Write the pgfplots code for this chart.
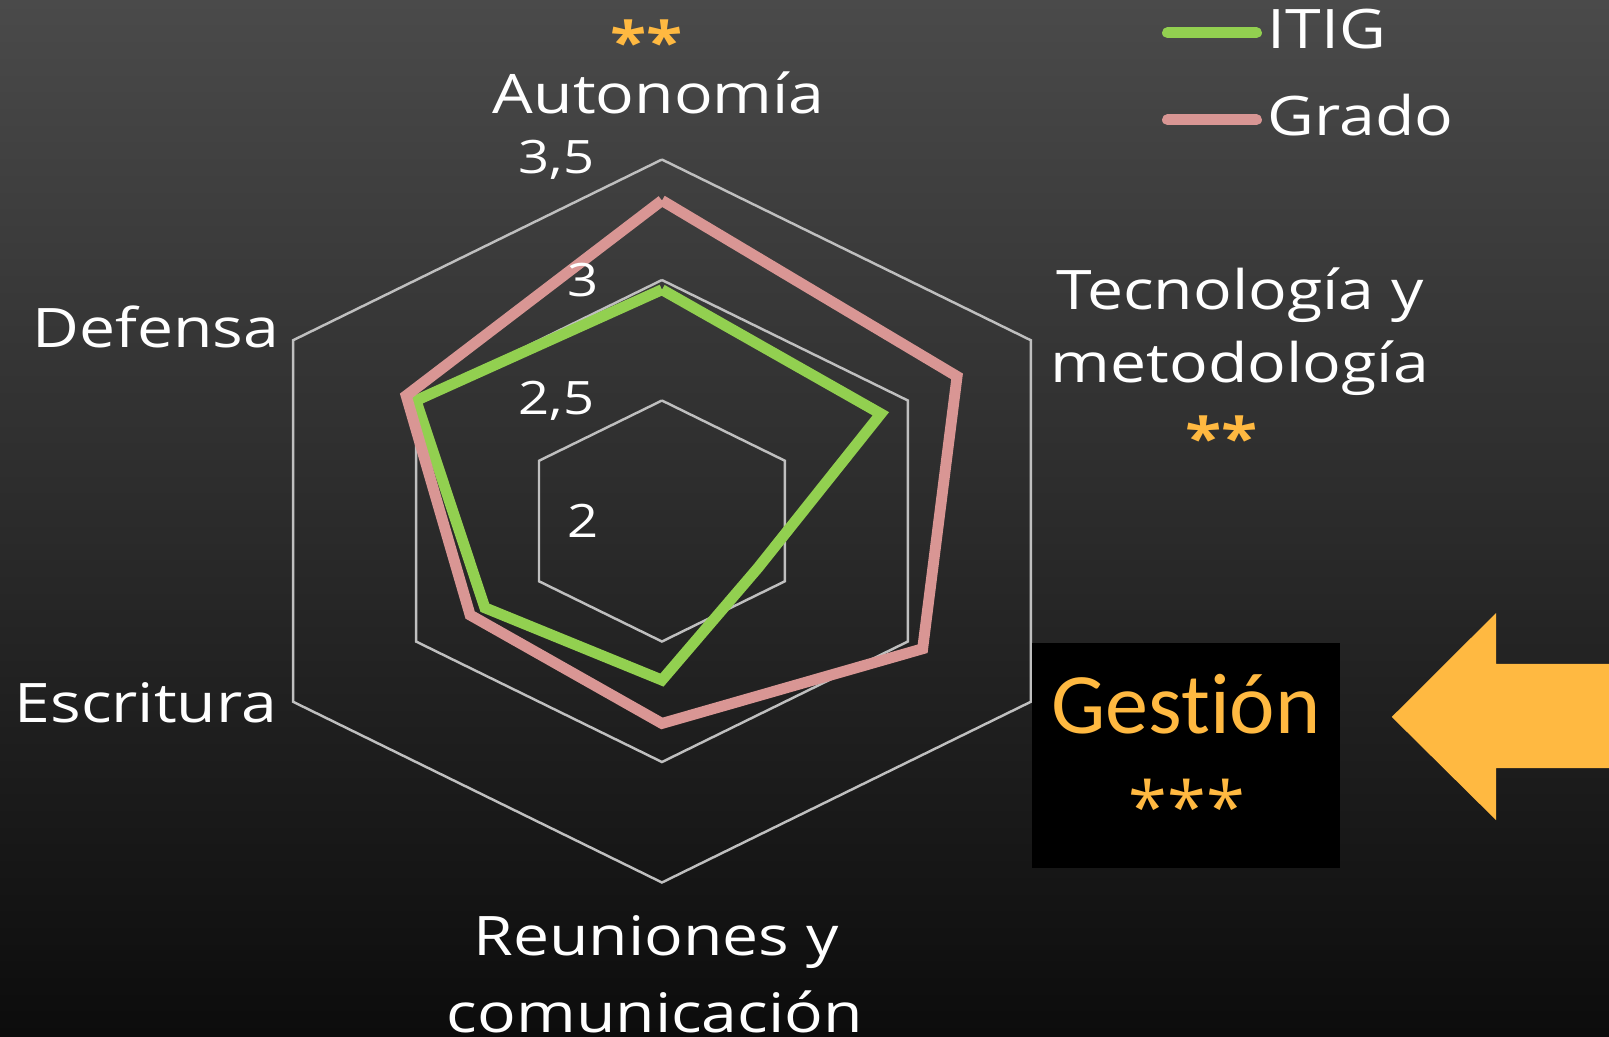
\documentclass[border=0pt]{standalone}
\usepackage{pgfplots}
\usepackage{pgfplotstable}
\usepackage{fontspec}
\pgfplotsset{compat=1.18}
\setmainfont{Open Sans}[FakeStretch=1.18]
\newfontfamily\calibri{Carlito}[Ligatures=NoCommon]
\newfontfamily\osplain{Open Sans}
\definecolor{itig}{HTML}{92D050}
\definecolor{grado}{HTML}{D99694}
\definecolor{gridc}{HTML}{BFBFBF}
\definecolor{orng}{HTML}{FFB941}
\definecolor{bgtop}{HTML}{4A4A4A}
\definecolor{bgbot}{HTML}{0C0C0C}

% angle (deg), value ITIG, value Grado ; radial axis starts at 2
\pgfplotstableread{
ang itig grado
90  2.96 3.33
30  2.89 3.20
-30 2.39 3.06
-90 2.66 2.84
210 2.72 2.78
150 3.00 3.04
90  2.96 3.33
}\radardata

\pgfplotstableread{
ang ga gb gc
90  2.5 3 3.5
30  2.5 3 3.5
-30 2.5 3 3.5
-90 2.5 3 3.5
210 2.5 3 3.5
150 2.5 3 3.5
90  2.5 3 3.5
}\gridtab

\newcommand{\lab}{\fontsize{15.5}{18}\selectfont}
\newcommand{\tck}{\fontsize{13.1}{15}\selectfont}

\begin{document}
\begin{tikzpicture}
\shade[top color=bgtop, bottom color=bgbot] (0,0) rectangle (16.09cm,10.36cm);
\begin{axis}[
  at={(0,0)}, anchor=south west,
  scale only axis, width=16.09cm, height=10.36cm,
  xmin=-2.331, xmax=3.335, ymin=-2.137, ymax=2.162,
  hide axis, clip=false,
  legend style={draw=none, fill=none, at={(axis cs:1.761,2.1275)}, anchor=north west,
    inner sep=0pt, outer sep=0pt, row sep=0pt, column sep=0.06cm,
    font=\lab, text=white,
    nodes={inner sep=0pt, text height=0.40cm, text depth=0.47cm}},
  legend cell align=left,
  legend image code/.code={\draw[#1, line cap=round] (0.055cm,0.19cm) -- (0.945cm,0.19cm);},
]
% grid hexagons
\addplot[gridc, line width=0.7pt, forget plot] table[x expr={(\thisrow{ga}-2)*cos(\thisrow{ang})}, y expr={(\thisrow{ga}-2)*sin(\thisrow{ang})}] {\gridtab};
\addplot[gridc, line width=0.7pt, forget plot] table[x expr={(\thisrow{gb}-2)*cos(\thisrow{ang})}, y expr={(\thisrow{gb}-2)*sin(\thisrow{ang})}] {\gridtab};
\addplot[gridc, line width=0.7pt, forget plot] table[x expr={(\thisrow{gc}-2)*cos(\thisrow{ang})}, y expr={(\thisrow{gc}-2)*sin(\thisrow{ang})}] {\gridtab};

% series
\addplot[itig, line width=3.1pt, line join=miter] table[x expr={(\thisrow{itig}-2)*cos(\thisrow{ang})}, y expr={(\thisrow{itig}-2)*sin(\thisrow{ang})}] {\radardata};
\addlegendentry{ITIG}
\addplot[grado, line width=3.1pt, line join=miter] table[x expr={(\thisrow{grado}-2)*cos(\thisrow{ang})}, y expr={(\thisrow{grado}-2)*sin(\thisrow{ang})}] {\radardata};
\addlegendentry{Grado}

% radial tick labels
\node[anchor=east, text=white, font=\tck, inner sep=0pt] at (axis cs:-0.236,1.5) {3,5};
\node[anchor=east, text=white, font=\tck, inner sep=0pt] at (axis cs:-0.222,1.0) {3};
\node[anchor=east, text=white, font=\tck, inner sep=0pt] at (axis cs:-0.236,0.5) {2,5};
\node[anchor=east, text=white, font=\tck, inner sep=0pt] at (axis cs:-0.222,0.0) {2};

% category labels
\node[anchor=base, text=white, font=\lab, inner sep=0pt] at (axis cs:-0.011,1.693) {Autonomía};
\node[anchor=base, text=white, font=\lab, inner sep=0pt] at (axis cs:2.035,0.876) {Tecnología y};
\node[anchor=base, text=white, font=\lab, inner sep=0pt] at (axis cs:2.035,0.573) {metodología};
\node[anchor=base east, text=white, font=\lab, inner sep=0pt] at (axis cs:-1.345,0.722) {Defensa};
\node[anchor=base east, text=white, font=\lab, inner sep=0pt] at (axis cs:-1.353,-0.838) {Escritura};
\node[anchor=base, text=white, font=\lab, inner sep=0pt] at (axis cs:-0.021,-1.801) {Reuniones y};
\node[anchor=base, text=white, font=\lab, inner sep=0pt] at (axis cs:-0.025,-2.124) {comunicación};

% significance marks
\node[anchor=north, text=orng, font=\bfseries\fontsize{16}{19}\selectfont, inner sep=0pt] at (axis cs:-0.053,2.084) {**};
\node[anchor=north, text=orng, font=\bfseries\fontsize{16}{19}\selectfont, inner sep=0pt] at (axis cs:1.972,0.439) {**};

% Gestion box
\fill[black] (axis cs:1.303,-0.506) rectangle (axis cs:2.387,-1.440);
\node[anchor=base, text=orng, font=\calibri\fontsize{24.5}{28}\selectfont, inner sep=0pt] at (axis cs:1.845,-0.880) {Gestión};
\node[anchor=north, text=orng, font=\osplain\fontsize{20}{24}\selectfont, inner sep=0pt] at (axis cs:1.849,-1.068) {***};

% arrow
\fill[orng] (axis cs:2.570,-0.813) -- (axis cs:2.937,-0.382) -- (axis cs:2.937,-0.593)
  -- (axis cs:3.40,-0.593) -- (axis cs:3.40,-1.025) -- (axis cs:2.937,-1.025)
  -- (axis cs:2.937,-1.241) -- cycle;
\end{axis}
\pgfresetboundingbox
\useasboundingbox (0,0) rectangle (16.09cm,10.36cm);
\end{tikzpicture}
\end{document}
